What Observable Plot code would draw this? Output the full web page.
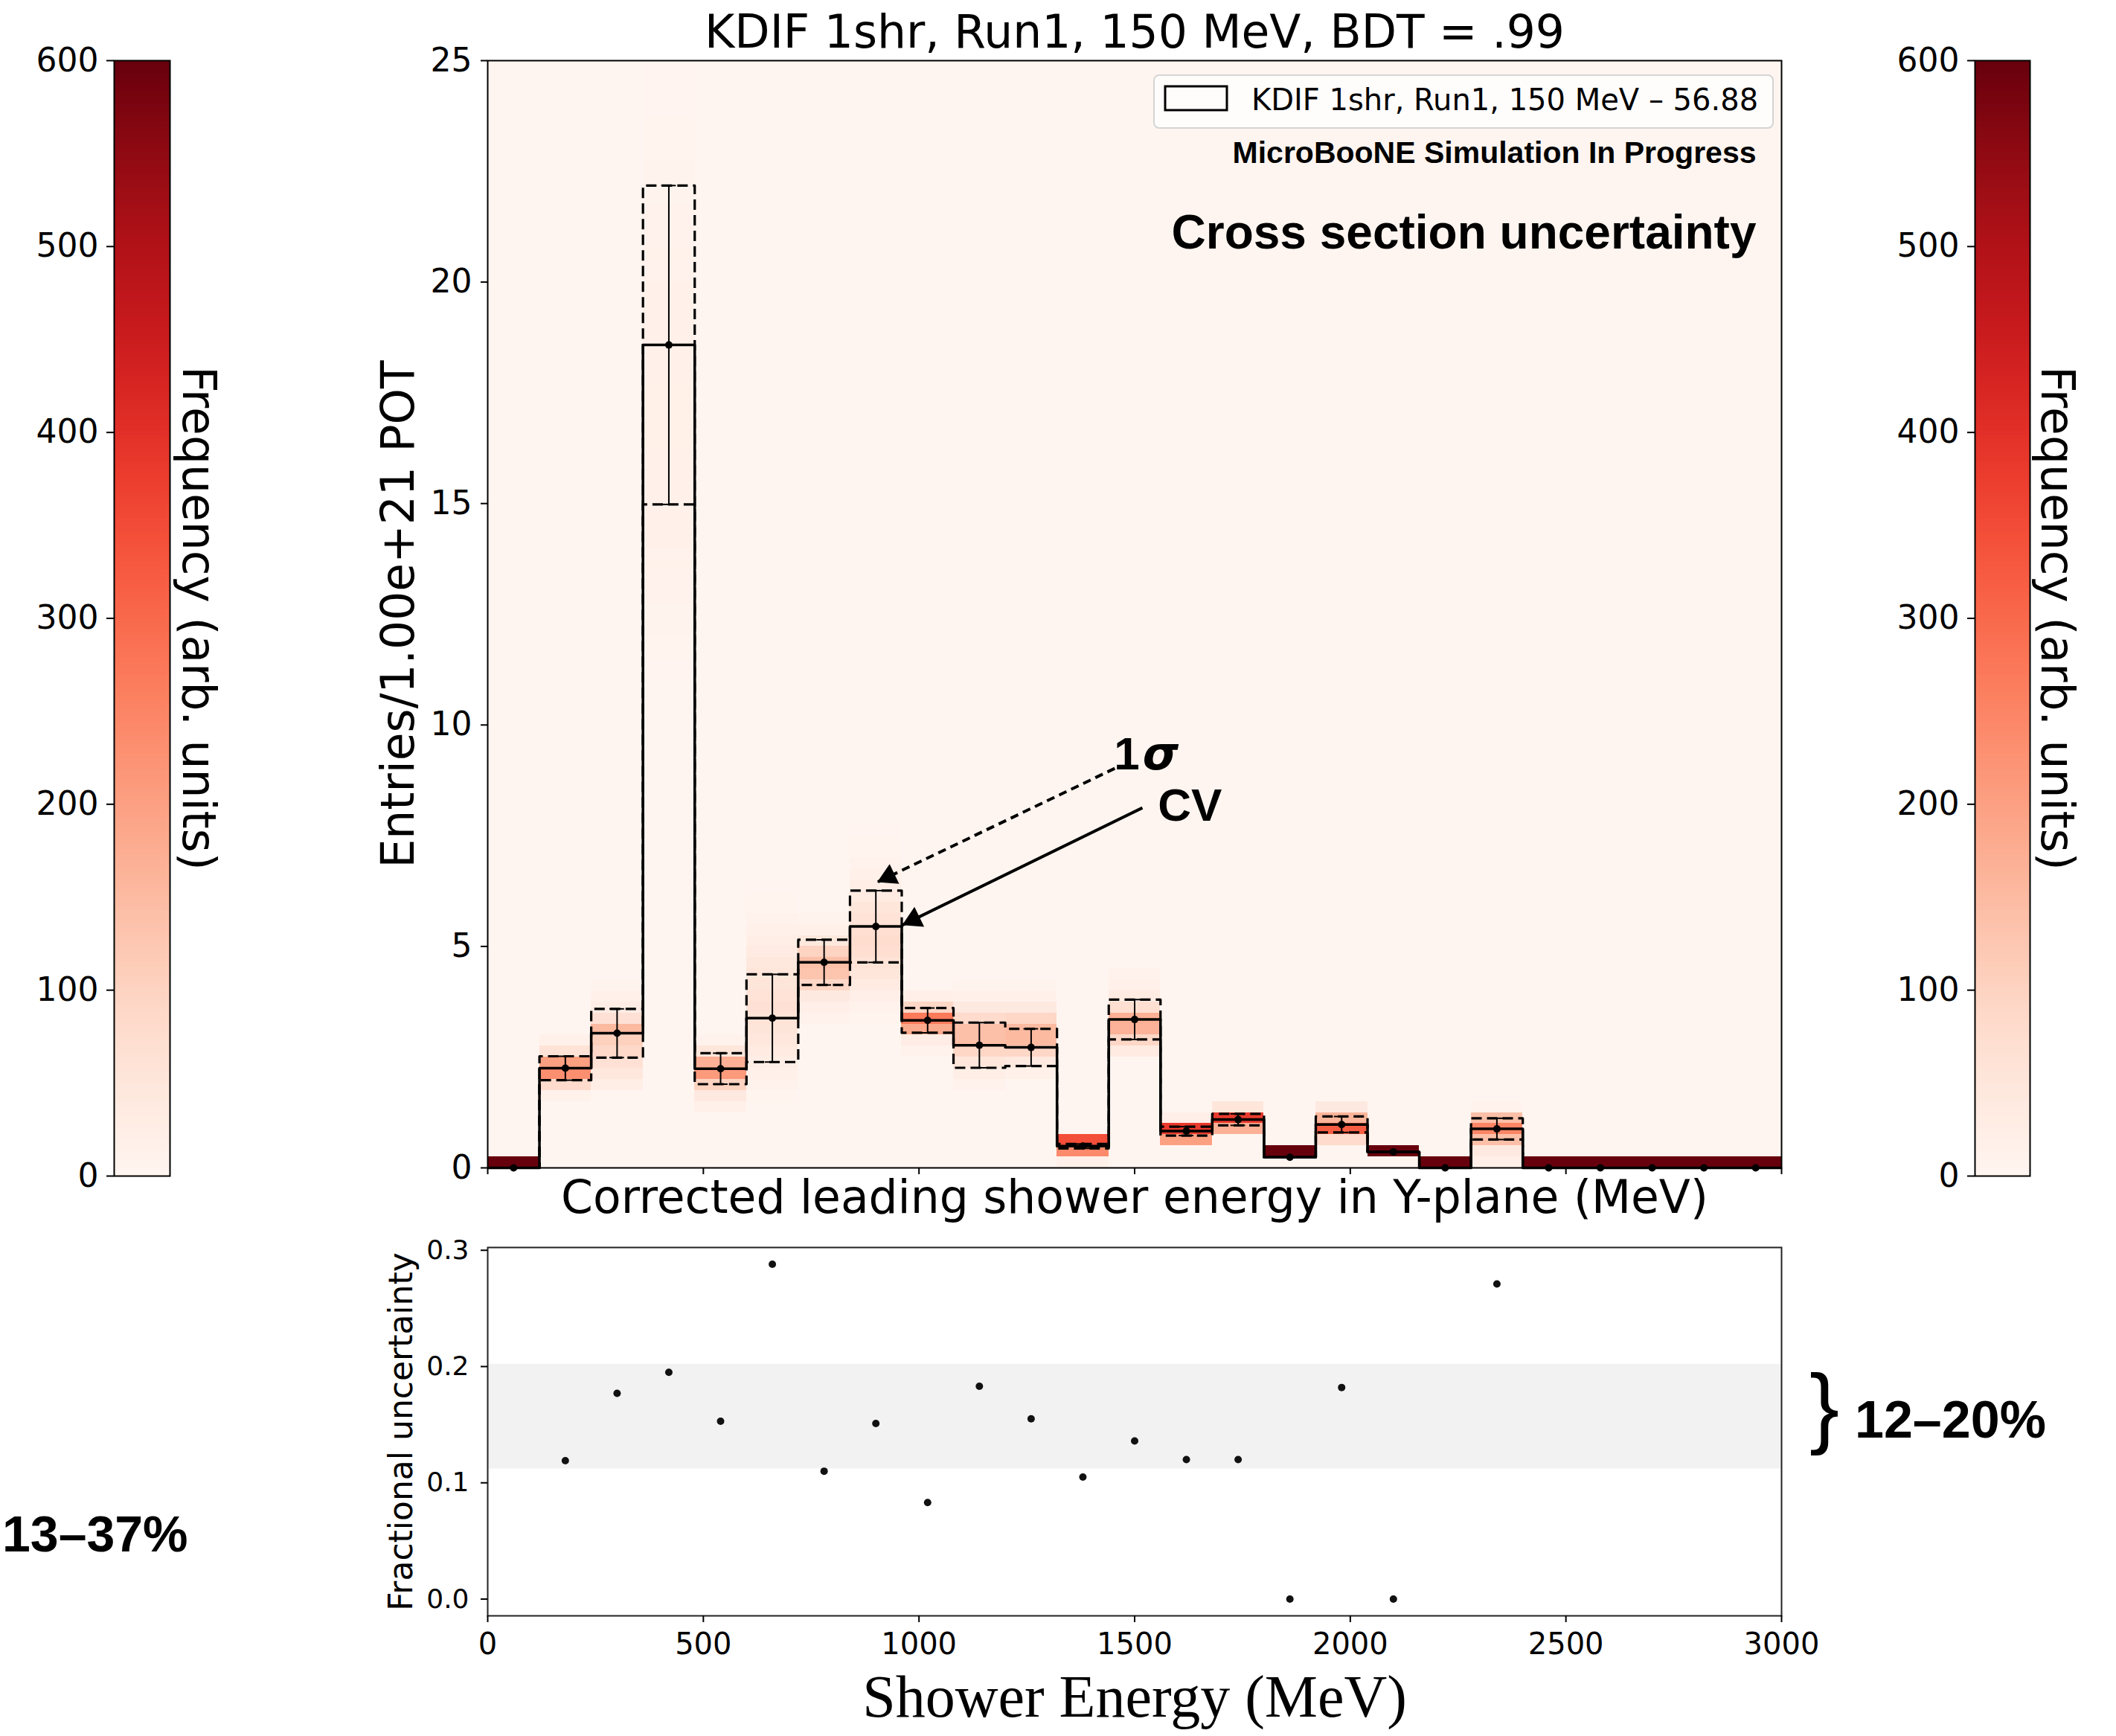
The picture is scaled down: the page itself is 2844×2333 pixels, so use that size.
<!DOCTYPE html>
<html>
<head>
<meta charset="utf-8">
<script src="https://cdn.jsdelivr.net/npm/d3@7"></script>
<script src="https://cdn.jsdelivr.net/npm/@observablehq/plot@0.6"></script>
<style>
  html, body { margin: 0; padding: 0; background: #ffffff; }
  body { width: 2844px; height: 2333px; position: relative; overflow: hidden; }
  .panel { position: absolute; }
  .panel svg { overflow: visible; }
</style>
</head>
<body>
<div id="cbarLeft" class="panel" style="left:0px;top:0px"></div>
<div id="main" class="panel" style="left:455px;top:0px"></div>
<div id="cbarRight" class="panel" style="left:2500px;top:0px"></div>
<div id="frac" class="panel" style="left:455px;top:1600px"></div>
<svg id="overlay" class="panel" style="left:0;top:0" width="2844" height="2333"></svg>
<script>
// ---------------- data ----------------
const binLow = [0,120,240,360,480,600,720,840,960,1080,1200,1320,1440,1560,1680,1800,1920,2040,2160,2280,2400,2520,2640,2760,2880];
const binWidth = 120;
const cv    = [0.00,2.25,3.04,18.58,2.24,3.38,4.64,5.45,3.33,2.77,2.72,0.49,3.35,0.83,1.09,0.24,0.98,0.36,0.00,0.88,0,0,0,0,0];
const sigma = [0,0.27,0.55,3.60,0.35,0.99,0.51,0.81,0.28,0.51,0.42,0.05,0.45,0.10,0.13,0,0.18,0,0,0.24,0,0,0,0,0];

// 2D histogram of universes: first 0.25-high cell index per energy bin, then counts upward
const cellHeight = 0.25;
const heatStart = [0,6,7,44,5,6,13,13,10,7,8,0,10,2,3,1,2,1,0,0,0,0,0,0,0];
const heatCounts = [
  [600],
  [12,80,230,200,60,15],
  [25,45,65,85,105,150,65,30,15,8],
  [2,3,4,5,6,7,8,9,10,11,12,13,14,15,16,16,17,17,18,18,18,19,19,19,19,19,19,18,18,18,17,17,16,16,15,14,13,13,12,11,10,10,9,8,7,7,6,5,5,4,4,3,3,2,2,2],
  [15,40,100,210,170,50,10],
  [5,10,15,25,35,45,55,60,65,60,55,50,45,35,25,15,10,5,4,3],
  [10,20,40,90,130,140,100,45,15,8],
  [5,10,20,35,50,60,70,75,70,60,50,35,25,15,10,5,4,2],
  [10,30,180,270,90,20],
  [10,25,50,90,140,140,80,40,15,8],
  [15,40,90,150,150,90,40,15,8],
  [15,240,345],
  [35,90,165,170,70,35,15,10],
  [200,380,20],
  [170,380,50],
  [600],
  [80,320,160,40],
  [600],
  [600],
  [20,40,140,250,140,10],
  [600],[600],[600],[600],[600]
];

const fracEnergy = [180,300,420,540,660,780,900,1020,1140,1260,1380,1500,1620,1740,1860,1980,2100,2340];
const fracValue  = [0.119,0.177,0.195,0.153,0.288,0.110,0.151,0.083,0.183,0.155,0.105,0.136,0.120,0.120,0.000,0.182,0.000,0.271];
const band = [0.112, 0.202];

const xTicks = [0,500,1000,1500,2000,2500,3000];
const yTicksMain = [0,5,10,15,20,25];
const yTicksFrac = [0,0.1,0.2,0.3];
const cbarTicks = [0,100,200,300,400,500,600];

const titleText = "KDIF 1shr, Run1, 150 MeV, BDT = .99";
const legendText = "KDIF 1shr, Run1, 150 MeV \u2013 56.88";
const xLabelMain = "Corrected leading shower energy in Y-plane (MeV)";
const yLabelMain = "Entries/1.00e+21 POT";
const cbarLabel = "Frequency (arb. units)";
const fracYLabel = "Fractional uncertainty";
const fracXLabel = "Shower Energy (MeV)";
const simText = "MicroBooNE Simulation In Progress";
const xsecText = "Cross section uncertainty";

// annotation arrows (data coordinates: text baseline-left, tail, tip)
const annotations = [
  {label: "1", greek: "\u03c3", textX: 1452, textY: 9.0, tailX: 1454, tailY: 9.02, tipX: 903, tipY: 6.45, dashed: true},
  {label: "CV", greek: "", textX: 1554, textY: 7.83, tailX: 1518, tailY: 8.13, tipX: 961, tipY: 5.48, dashed: false}
];

// ---------------- derived tables ----------------
const xDomain = [0, 3000];
const yDomainMain = [0, 25];
const colorScale = {type: "linear", scheme: "reds", domain: [0, 600]};

const bins = binLow.map((x0, i) => ({
  x1: x0, x2: x0 + binWidth, c: x0 + binWidth / 2,
  cv: cv[i], s: sigma[i], lo: cv[i] - sigma[i], hi: cv[i] + sigma[i]
}));
const cells = [];
heatCounts.forEach((counts, i) => {
  counts.forEach((n, j) => {
    const k = heatStart[i] + j;
    cells.push({x1: binLow[i], x2: binLow[i] + binWidth, y1: k * cellHeight, y2: (k + 1) * cellHeight, count: n});
  });
});
function stepOf(values) {
  const pts = [{x: xDomain[0], y: 0}];
  values.forEach((v, i) => pts.push({x: binLow[i], y: v}));
  pts.push({x: xDomain[1], y: values[values.length - 1]});
  pts.push({x: xDomain[1], y: 0});
  return pts;
}
const withErr = bins.filter(d => d.s > 0);

// ---------------- main panel ----------------
const mainW = 1959, mainH = 1680, mL = 200, mR = 20, mT = 81, mB = 111;
const plotW = mainW - mL - mR, plotH = mainH - mT - mB;
const kx = plotW / (xDomain[1] - xDomain[0]);
const ky = plotH / (yDomainMain[1] - yDomainMain[0]);
const capHalf = 17;
const headR = 11;
const headOffset = 2 * Math.sqrt(Math.PI * headR * headR / (3 * Math.sqrt(3)));
const bigFont = 61.5;

const arrowMarks = [];
annotations.forEach(a => {
  const dxp = (a.tipX - a.tailX) * kx, dyp = -(a.tipY - a.tailY) * ky;
  const len = Math.hypot(dxp, dyp);
  const ux = dxp / len, uy = dyp / len;
  const ang = Math.atan2(dyp, dxp) * 180 / Math.PI;
  arrowMarks.push(Plot.link([a], {x1: "tailX", y1: "tailY", x2: "tipX", y2: "tipY",
    stroke: "black", strokeWidth: 4, strokeLinecap: "butt",
    strokeDasharray: a.dashed ? "11,7" : null}));
  arrowMarks.push(Plot.dot([a], {x: "tipX", y: "tipY", symbol: "triangle", r: headR, fill: "black", stroke: "none",
    rotate: ang + 90, dx: -headOffset * ux, dy: -headOffset * uy}));
  const fs = 62;
  arrowMarks.push(Plot.text([a], {x: "textX", y: "textY", text: "label", fontSize: fs, fontWeight: "bold",
    fontFamily: "Liberation Sans", textAnchor: "start", lineAnchor: "middle", dy: -0.32 * fs, fill: "black"}));
  if (a.greek) {
    arrowMarks.push(Plot.text([a], {x: "textX", y: "textY", text: "greek", fontSize: fs, fontWeight: "bold", fontStyle: "italic",
      fontFamily: "DejaVu Sans", textAnchor: "start", lineAnchor: "middle", dy: -0.32 * fs, dx: 0.556 * fs + 4, fill: "black"}));
  }
});

const mainPlot = Plot.plot({
  width: mainW, height: mainH,
  marginLeft: mL, marginRight: mR, marginTop: mT, marginBottom: mB,
  style: {fontFamily: "DejaVu Sans", background: "none", color: "black", overflow: "visible"},
  x: {domain: xDomain},
  y: {domain: yDomainMain},
  color: colorScale,
  marks: [
    Plot.frame({fill: d3.interpolateReds(0), stroke: "none"}),
    Plot.rect(cells, {x1: "x1", x2: "x2", y1: "y1", y2: "y2", fill: "count", shapeRendering: "crispEdges"}),
    Plot.line(stepOf(bins.map(d => d.hi)), {x: "x", y: "y", curve: "step-after", stroke: "black", strokeWidth: 3.2, strokeDasharray: "14,7", strokeLinecap: "butt"}),
    Plot.line(stepOf(bins.map(d => d.lo)), {x: "x", y: "y", curve: "step-after", stroke: "black", strokeWidth: 3.2, strokeDasharray: "14,7", strokeLinecap: "butt"}),
    Plot.line(stepOf(cv), {x: "x", y: "y", curve: "step-after", stroke: "black", strokeWidth: 3.5, strokeLinecap: "butt"}),
    Plot.ruleX(withErr, {x: "c", y1: "lo", y2: "hi", stroke: "black", strokeWidth: 2}),
    Plot.ruleY(withErr, {y: "hi", x1: d => d.c - capHalf, x2: d => d.c + capHalf, stroke: "black", strokeWidth: 2}),
    Plot.ruleY(withErr, {y: "lo", x1: d => d.c - capHalf, x2: d => d.c + capHalf, stroke: "black", strokeWidth: 2}),
    Plot.dot(bins, {x: "c", y: "cv", r: 5, fill: "black"}),
    ...arrowMarks,
    Plot.frame({stroke: "black", strokeWidth: 2}),
    Plot.axisY({ticks: yTicksMain, tickSize: 9, tickPadding: 12, fontSize: 44, strokeWidth: 2, label: null}),
    Plot.axisX({ticks: xTicks, tickSize: 9, tickFormat: () => "", strokeWidth: 2, label: null}),
    Plot.text([yLabelMain], {text: d => d, frameAnchor: "left", rotate: -90, dx: -119, fontSize: bigFont, textAnchor: "middle", lineAnchor: "middle"}),
    Plot.text([xLabelMain], {text: d => d, frameAnchor: "bottom", dy: 41, fontSize: bigFont, textAnchor: "middle", lineAnchor: "middle"}),
    Plot.text([titleText], {text: d => d, frameAnchor: "top", dy: -37, fontSize: bigFont, textAnchor: "middle", lineAnchor: "middle"}),
    Plot.text([simText], {text: d => d, frameAnchor: "top-right", dx: -34, dy: 124, fontSize: 41, fontWeight: "bold", fontFamily: "Liberation Sans", textAnchor: "end", lineAnchor: "middle"}),
    Plot.text([xsecText], {text: d => d, frameAnchor: "top-right", dx: -34, dy: 232, fontSize: 64, fontWeight: "bold", fontFamily: "Liberation Sans", textAnchor: "end", lineAnchor: "middle"})
  ]
});
document.getElementById("main").appendChild(mainPlot);

// ---------------- fractional uncertainty panel ----------------
const fracData = fracEnergy.map((e, i) => ({e, v: fracValue[i]}));
const fracPlot = Plot.plot({
  width: 1959, height: 733,
  marginLeft: 200, marginRight: 20, marginTop: 76, marginBottom: 162,
  style: {fontFamily: "DejaVu Sans", background: "none", color: "black", overflow: "visible"},
  x: {domain: xDomain},
  y: {domain: [-0.0144, 0.3024]},
  marks: [
    Plot.rect([band], {y1: d => d[0], y2: d => d[1], fill: "#f2f2f2"}),
    Plot.dot(fracData, {x: "e", y: "v", r: 5, fill: "#111"}),
    Plot.frame({stroke: "#222", strokeWidth: 2}),
    Plot.axisY({ticks: yTicksFrac, tickFormat: d3.format(".1f"), tickSize: 9, tickPadding: 16, fontSize: 36, strokeWidth: 2, label: null}),
    Plot.axisX({ticks: xTicks, tickFormat: d3.format("d"), tickSize: 9, tickPadding: 14, fontSize: 40, strokeWidth: 2, label: null}),
    Plot.text([fracYLabel], {text: d => d, frameAnchor: "left", rotate: -90, dx: -116, fontSize: 44, textAnchor: "middle", lineAnchor: "middle"}),
    Plot.text([fracXLabel], {text: d => d, frameAnchor: "bottom", dy: 110, fontSize: 80, fontFamily: "Liberation Serif", textAnchor: "middle", lineAnchor: "middle"})
  ]
});
document.getElementById("frac").appendChild(fracPlot);

// ---------------- colorbars ----------------
const cbarStep = 600 / 256;
const cbarLevels = d3.range(0, 600, cbarStep);
function colorbar(mLeft, mRight, width, dxLabel) {
  return Plot.plot({
    width, height: 1640,
    marginLeft: mLeft, marginRight: mRight, marginTop: 81, marginBottom: 60,
    style: {fontFamily: "DejaVu Sans", background: "none", color: "black", overflow: "visible"},
    x: {domain: [0, 1], axis: null},
    y: {domain: [0, 600]},
    color: colorScale,
    marks: [
      Plot.rect(cbarLevels, {x1: 0, x2: 1, y1: d => d, y2: d => d + cbarStep, fill: d => d + cbarStep / 2, shapeRendering: "crispEdges"}),
      Plot.frame({stroke: "black", strokeWidth: 2}),
      Plot.axisY({ticks: cbarTicks, tickSize: 10, tickPadding: 11, fontSize: 44, strokeWidth: 2, label: null}),
      Plot.text([cbarLabel], {text: d => d, frameAnchor: "right", rotate: 90, dx: dxLabel, fontSize: bigFont, textAnchor: "middle", lineAnchor: "middle"})
    ]
  });
}
document.getElementById("cbarLeft").appendChild(colorbar(153, 102, 330, 37));
document.getElementById("cbarRight").appendChild(colorbar(154, 116, 344, 35));

// ---------------- overlay: legend & side annotations ----------------
const ov = d3.select("#overlay");
ov.append("rect").attr("x", 1551).attr("y", 101).attr("width", 832).attr("height", 71).attr("rx", 7)
  .attr("fill", "rgba(255,255,255,0.8)").attr("stroke", "#d4d4d4").attr("stroke-width", 2);
ov.append("rect").attr("x", 1566).attr("y", 116).attr("width", 83).attr("height", 32)
  .attr("fill", "none").attr("stroke", "black").attr("stroke-width", 3);
ov.append("text").attr("x", 1682).attr("y", 148).attr("font-family", "DejaVu Sans").attr("font-size", 40).text(legendText);
ov.append("text").attr("x", 3).attr("y", 2085).attr("text-anchor", "start").attr("font-family", "Liberation Sans")
  .attr("font-weight", "bold").attr("font-size", 68).text("13\u201337%");
ov.append("text").attr("x", 2432).attr("y", 1931).attr("font-family", "Liberation Sans").attr("font-size", 120).text("}");
ov.append("text").attr("x", 2493).attr("y", 1932).attr("font-family", "Liberation Sans")
  .attr("font-weight", "bold").attr("font-size", 70).text("12\u201320%");
</script>
</body>
</html>
